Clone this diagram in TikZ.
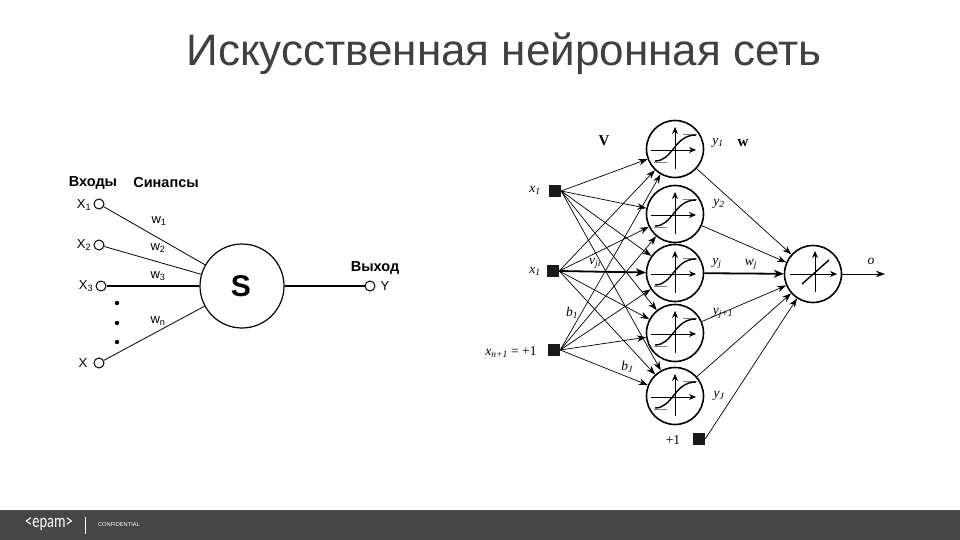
\documentclass[tikz,border=0pt]{standalone}
\usepackage{fontspec}
\setmainfont{Liberation Sans}
\newfontfamily\serifnet{Liberation Serif}
\newfontfamily\logofont{Carlito}
\usepackage{xcolor}
\usetikzlibrary{arrows.meta}
\definecolor{titlegray}{HTML}{404040}
\definecolor{barcolor}{HTML}{464646}
\tikzset{
  x=1pt, y=-1pt,
  port/.style={draw, line width=1pt, circle, inner sep=0pt, minimum size=10pt},
  soma/.style={draw, line width=1.2pt, circle, inner sep=0pt, minimum size=84pt},
  cell/.style={draw, line width=1.6pt, circle, inner sep=0pt, minimum size=57pt},
  pin/.style={fill=black!90, rectangle, inner sep=0pt, minimum size=12pt},
  lbl/.style={inner sep=0pt, font=\fontsize{13}{15}\selectfont},
  head/.style={inner sep=0pt, font=\fontsize{14.5}{16}\selectfont\bfseries},
  mth/.style={inner sep=0pt, font=\fontsize{13.5}{15}\selectfont\serifnet\itshape},
  mthb/.style={inner sep=0pt, font=\fontsize{15}{17}\selectfont\serifnet\bfseries},
  wire/.style={line width=0.7pt, -{Stealth[length=9pt,width=6.5pt]}},
  mainwire/.style={line width=1.8pt, -{Stealth[length=10pt,width=8pt]}},
  axis/.style={line width=0.9pt, -{Stealth[length=7pt,width=6pt]}},
  sigm/.pic={
    \draw[black!50, line width=0.6pt] (8,-15) -- (22,-15) (-21,13) -- (-8,13);
    \draw[axis] (-24,1) -- (21,1);
    \draw[axis] (0,20) -- (0,-22);
    \draw[line width=1.4pt] (-20,12) .. controls (-2,12) and (-1,-14) .. (21,-14);
  }
}
\begin{document}
\begin{tikzpicture}
\useasboundingbox (0,0) rectangle (960,540);
\fill[white] (0,0) rectangle (960,540);
\node (title) at (504,54) [inner sep=0pt, text=titlegray, font=\fontsize{44}{48}\selectfont] {Искусственная нейронная сеть};

% single neuron
\node[soma] (S) at (242,286) {};
\node (Stext) at (241,286) [inner sep=0pt, font=\fontsize{30}{32}\selectfont\bfseries] {S};
\node[port] (X1) at (99,204) {};
\node[port] (X2) at (99,245) {};
\node[port] (X3) at (101,286) {};
\node[port] (Xn) at (99,363) {};
\node[port] (Y) at (370,286) {};
\draw[line width=0.8pt] (X1) -- (S);
\draw[line width=0.8pt] (X2) -- (S);
\draw[line width=1.5pt] (X3) -- (S);
\draw[line width=0.8pt] (Xn) -- (S);
\draw[line width=1.5pt] (S) -- (Y);
\foreach \d in {303,323,342}
  \fill (117,\d) circle (2.2);
\node[head] (inputs) at (93,183) {Входы};
\node[head] (synapses) at (166,183) {Синапсы};
\node[head] (output) at (375,268) {Выход};
\node[lbl] (lx1) at (84,205) {X\textsubscript{1}};
\node[lbl] (lx2) at (84,245) {X\textsubscript{2}};
\node[lbl] (lx3) at (86,286) {X\textsubscript{3}};
\node[lbl] (lxn) at (83,363) {X};
\node[lbl] (ly) at (385,286) {Y};
\node[lbl] (lw1) at (159,221) {w\textsubscript{1}};
\node[lbl] (lw2) at (158,248) {w\textsubscript{2}};
\node[lbl] (lw3) at (158,276) {w\textsubscript{3}};
\node[lbl] (lwn) at (158,321) {w\textsubscript{n}};

% network
\foreach \n/\y in {n1/149,n2/214,n3/273,n4/333,n5/396}
  \node[cell] (\n) at (675,\y) {};
\node[cell] (out) at (813,274) {};
\node[pin] (in1) at (555,191) {};
\node[pin] (in2) at (553,271) {};
\node[pin] (in3) at (554,350) {};
\node[pin] (bias) at (699,439) {};
\coordinate (end) at (885,274);
\foreach \i in {in1,in2,in3}
  \foreach \n in {n1,n2,n3,n4,n5}
    \draw[wire] (\i.east) -- (\n);
\draw[mainwire] (in2.east) -- (n3);
\foreach \n in {n1,n2,n4,n5}
  \draw[wire] (\n) -- (out);
\draw[mainwire] (n3) -- (out);
\draw[wire] (bias.east) -- (out);
\draw[wire] (out) -- (end);
\foreach \n/\y in {n1/149,n2/214,n3/273,n4/333,n5/396}
  \pic at (675,\y) {sigm};
% linear activation
\draw[axis] (790,274) -- (837,274);
\draw[axis] (815,292) -- (815,251);
\draw[line width=1.4pt] (802,284) -- (829,260);

\node[mthb] (lV) at (604,141) {V};
\node[mthb] (lw) at (743,143) {w};
\node[mth] (la) at (535,190) {x\textsubscript{1}};
\node[mth] (lb) at (535,271) {x\textsubscript{1}};
\node[mth] (lc) at (511,352) {x\textsubscript{n+1} {\upshape = +1}};
\node[mth] (ld) at (673,440) {\upshape +1};
\node[mth] (lvji) at (595,263) {v\textsubscript{ji}};
\node[mth] (lb1) at (572,313) {b\textsubscript{1}};
\node[mth] (lbJ) at (627,367) {b\textsubscript{J}};
\node[mth] (ly1) at (718,143) {y\textsubscript{1}};
\node[mth] (ly2) at (719,204) {y\textsubscript{2}};
\node[mth] (lyj) at (717,263) {y\textsubscript{j}};
\node[mth] (lwj) at (751,264) {w\textsubscript{j}};
\node[mth] (lyj1) at (723,313) {y\textsubscript{j+1}};
\node[mth] (lyJ) at (719,396) {y\textsubscript{J}};
\node[mth] (lo) at (871,261) {o};

% footer
\fill[barcolor] (0,510) rectangle (960,540);
\node (logo) at (49,524) [inner sep=0pt, xscale=0.76, transform shape, text=white, font=\fontsize{19}{20}\selectfont\logofont] {<epam>};
\draw[white, line width=0.5pt] (85,517) -- (85,534);
\node (conf) at (119,524.5) [inner sep=0pt, text=white, font=\fontsize{5.7}{6}\selectfont] {CONFIDENTIAL};
\end{tikzpicture}
\end{document}
